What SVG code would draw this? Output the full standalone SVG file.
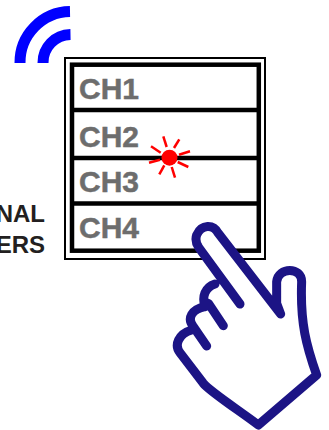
<svg xmlns="http://www.w3.org/2000/svg" width="329" height="430" viewBox="0 0 329 430">
<style>
.ch{font:bold 30px "Liberation Sans",Arial,sans-serif;fill:#6d6d6d;stroke:#6d6d6d;stroke-width:.5}
.lbl{font:bold 24px "Liberation Sans",Arial,sans-serif;fill:#231f20;text-anchor:end}
.w{fill:none;stroke:#0000ff;stroke-width:11}
.d{stroke:#000;stroke-width:4.500}
.r{stroke:#ff0000;stroke-width:2.500}
.hs{fill:none;stroke:#1c1485;stroke-width:27;stroke-linecap:round;stroke-linejoin:round}
</style>
<g id="wifi"><path class="w" d="M70 11.500A51 51 0 0 0 20 63"/><path class="w" d="M70.500 34.500A28 28 0 0 0 43 63"/></g>
<g id="label"><text class="lbl" x="45" y="222">NAL</text><text class="lbl" x="45" y="253">ERS</text></g>
<g id="panel">
<rect x="65" y="58" width="200" height="201" fill="#fff" stroke="#000" stroke-width="2"/>
<rect x="72" y="64.700" width="186.800" height="186" fill="#fff" stroke="#000" stroke-width="4.500"/>
<line class="d" x1="72" y1="110" x2="258" y2="110"/><line class="d" x1="72" y1="158" x2="258" y2="158"/><line class="d" x1="72" y1="203.500" x2="258" y2="203.500"/>
</g>
<g id="ch1"><text class="ch" x="79" y="99">CH1</text></g>
<g id="ch2"><text class="ch" x="79" y="147">CH2</text></g>
<g id="ch3"><text class="ch" x="79" y="192">CH3</text></g>
<g id="ch4"><text class="ch" x="79" y="238">CH4</text></g>
<g id="led"><circle cx="169.500" cy="157.700" r="8" fill="#ff0000"/>
<line class="r" x1="174" y1="148" x2="179.300" y2="139.300"/><line class="r" x1="179" y1="154.700" x2="190" y2="151.300"/><line class="r" x1="177.700" y1="162" x2="188.300" y2="167"/><line class="r" x1="171.700" y1="167" x2="175" y2="177.700"/><line class="r" x1="164.300" y1="165.300" x2="159.300" y2="174.300"/><line class="r" x1="160" y1="159.700" x2="149" y2="162.700"/><line class="r" x1="160.700" y1="152.700" x2="151" y2="146.300"/><line class="r" x1="166.700" y1="147" x2="163.300" y2="136.300"/></g>
<g id="hand" transform="translate(160 210) scale(.3333)">
<path fill="#fff" d="M362 312L175 70C160 42 125 42 110 75C105 90 108 100 116 112L165 222C135 232 130 255 145 280C95 300 85 330 100 345C55 375 45 405 60 428L130 520C150 545 250 610 295 645L470 495C440 410 420 340 425 215C425 170 355 170 350 215L350 280Z"/>
<path class="hs" d="M362 312L350 280L350 215C355 170 425 170 425 215C420 340 440 410 470 495L295 645C250 610 150 545 130 520L60 428C42 405 55 372 95 360M135 290C125 260 135 232 165 222M145 280L190 347M135 290C95 298 80 325 100 350L140 408M362 312L175 70C160 42 125 42 110 75C105 90 108 100 116 112L240 282"/></g>
</svg>
